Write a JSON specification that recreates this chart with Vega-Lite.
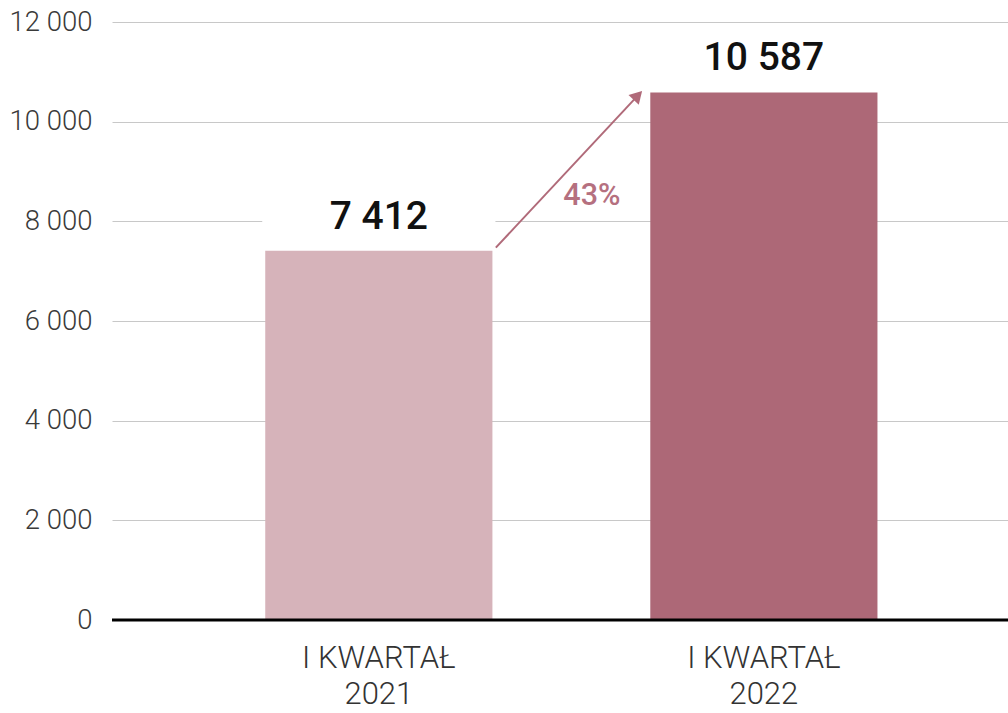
{
  "$schema": "https://vega.github.io/schema/vega-lite/v6.json",
  "autosize": "none",
  "width": 896,
  "height": 598,
  "padding": {"left": 112, "top": 22, "right": 0, "bottom": 93},
  "background": "#ffffff",
  "config": {
    "locale": {"number": {"decimal": ",", "thousands": " ", "grouping": [3], "currency": ["", " zł"]}},
    "view": {"stroke": null},
    "font": "Roboto"
  },
  "datasets": {
    "bars": [
      {"period": "2021", "value": 7412, "maskTop": 8750, "color": "#d6b3ba"},
      {"period": "2022", "value": 10587, "maskTop": 11880, "color": "#ad6877"}
    ],
    "change": [
      {"from": "2021", "to": "2022", "v0": 7412, "v1": 10587, "pct": "43%"}
    ]
  },
  "layer": [
    {
      "data": {"name": "bars"},
      "mark": {"type": "bar", "fill": "#ffffff", "stroke": "#ffffff", "strokeWidth": 6},
      "encoding": {
        "x": {
          "field": "period", "type": "nominal", "sort": null,
          "scale": {"paddingInner": 0.41, "paddingOuter": 0.3685, "align": 0.54},
          "axis": {
            "title": null, "domain": false, "ticks": false, "tickSize": 0,
            "labelExpr": "['I KWARTAŁ', datum.label]",
            "labelFont": "Roboto", "labelFontWeight": 300, "labelFontSize": 31,
            "labelColor": "#333333", "labelLineHeight": 36, "labelPadding": 23,
            "labelAngle": 0
          }
        },
        "y": {
          "field": "value", "type": "quantitative",
          "scale": {"domain": [0, 12000], "nice": false},
          "axis": {
            "title": null, "domain": false, "ticks": false, "tickSize": 0,
            "values": [0, 2000, 4000, 6000, 8000, 10000, 12000],
            "format": ",.0f",
            "labelFont": "Roboto", "labelFontWeight": 300, "labelFontSize": 27.5,
            "labelColor": "#3a3a3a", "labelPadding": 20,
            "grid": true, "gridColor": "#c8c8c8", "gridWidth": 1
          }
        },
        "y2": {"field": "maskTop"}
      }
    },
    {
      "data": {"name": "bars"},
      "mark": {"type": "bar"},
      "encoding": {
        "x": {"field": "period", "type": "nominal", "sort": null},
        "y": {"field": "value", "type": "quantitative"},
        "fill": {"field": "color", "type": "nominal", "scale": null, "legend": null}
      }
    },
    {
      "data": {"name": "bars"},
      "mark": {"type": "text", "font": "Roboto", "fontWeight": 500, "fontSize": 39, "color": "#111111", "baseline": "alphabetic", "dy": -22},
      "encoding": {
        "x": {"field": "period", "type": "nominal", "sort": null},
        "y": {"field": "value", "type": "quantitative"},
        "text": {"field": "value", "type": "quantitative", "format": ",.0f"}
      }
    },
    {
      "data": {"values": [{"zero": 0}]},
      "mark": {"type": "rule", "color": "#000000", "strokeWidth": 3},
      "encoding": {"y": {"field": "zero", "type": "quantitative"}}
    },
    {
      "data": {"name": "change"},
      "mark": {"type": "rule", "color": "#b06a79", "strokeWidth": 2, "xOffset": 117, "x2Offset": -124, "yOffset": -3, "y2Offset": 1},
      "encoding": {
        "x": {"field": "from", "type": "nominal"},
        "x2": {"field": "to"},
        "y": {"field": "v0", "type": "quantitative"},
        "y2": {"field": "v1"}
      }
    },
    {
      "data": {"name": "change"},
      "mark": {"type": "point", "shape": "triangle-up", "filled": true, "color": "#b06a79", "opacity": 1, "size": 200, "angle": 43.5, "xOffset": -126, "yOffset": 3},
      "encoding": {
        "x": {"field": "to", "type": "nominal"},
        "y": {"field": "v1", "type": "quantitative"}
      }
    },
    {
      "data": {"name": "change"},
      "mark": {"type": "text", "font": "Roboto", "fontWeight": 500, "fontSize": 30.5, "color": "#b5707f", "align": "center", "baseline": "middle", "xOffset": -172, "yOffset": -55},
      "encoding": {
        "x": {"field": "to", "type": "nominal"},
        "y": {"field": "v0", "type": "quantitative"},
        "text": {"field": "pct", "type": "nominal"}
      }
    }
  ]
}
